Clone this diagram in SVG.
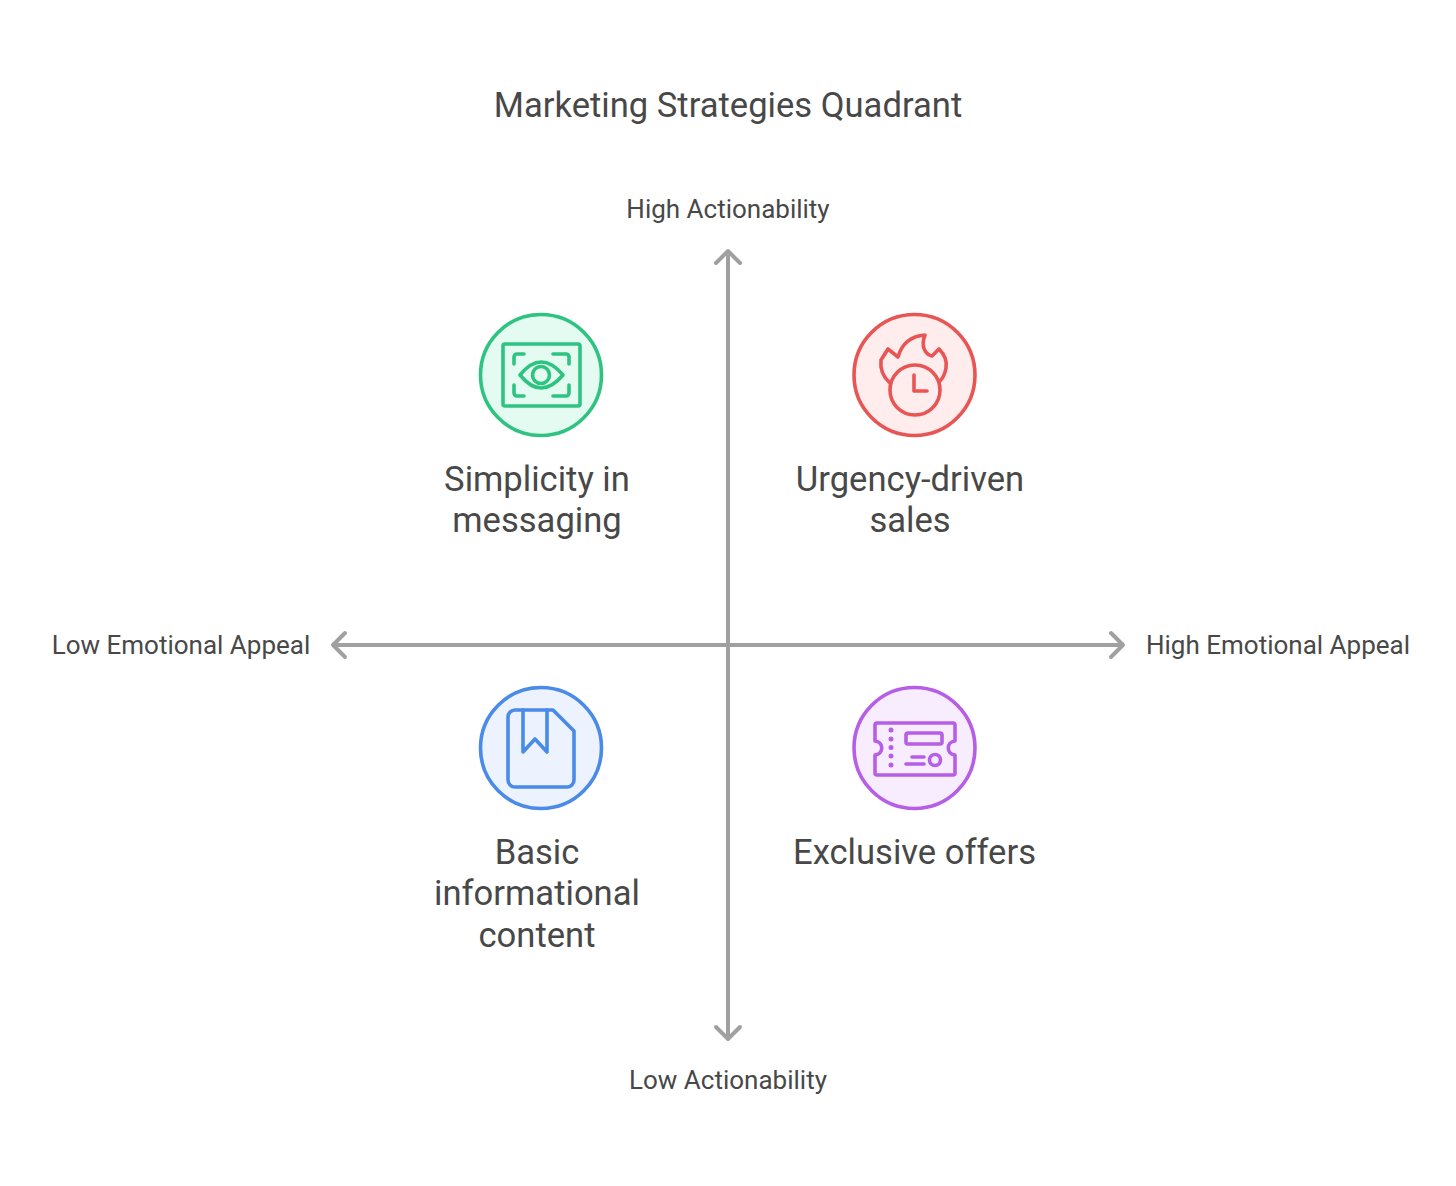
<svg xmlns="http://www.w3.org/2000/svg" width="1456" height="1186" viewBox="0 0 1456 1186">
<defs>
<marker id="arrow" markerUnits="userSpaceOnUse" markerWidth="30" markerHeight="30" refX="22" refY="15" orient="auto-start-reverse" viewBox="0 0 30 30"><path d="M10 3 L22 15 L10 27" fill="none" stroke="#a0a0a0" stroke-width="4" stroke-linecap="round" stroke-linejoin="round"/></marker>
</defs>
<style>
text{font-family:Roboto,"Liberation Sans",sans-serif;fill:#484848;text-anchor:middle}
.t{font-size:34.6px}
.a{font-size:26px}
.n{font-size:34.6px}
.ic{fill:none;stroke-width:3.6;stroke-linecap:round;stroke-linejoin:round}
.c{stroke-width:3.6}
</style>
<rect width="1456" height="1186" fill="#fff"/>
<text class="t" x="728" y="116.500">Marketing Strategies Quadrant</text>
<g id="connectors" fill="none" stroke="#a0a0a0" stroke-width="4">
<line x1="728" y1="1039" x2="728" y2="251" marker-start="url(#arrow)" marker-end="url(#arrow)"/>
<line x1="333" y1="645" x2="1123" y2="645" marker-start="url(#arrow)" marker-end="url(#arrow)"/>
</g>
<g id="axis-labels">
<text class="a" x="728" y="217.500">High Actionability</text>
<text class="a" x="728" y="1089">Low Actionability</text>
<text class="a" x="181" y="653.500">Low Emotional Appeal</text>
<text class="a" x="1278" y="653.500">High Emotional Appeal</text>
</g>
<g id="node-simplicity">
<circle class="c" cx="541" cy="375" r="60.500" fill="#e3fbf0" stroke="#2fc381"/>
<g class="ic" stroke="#2fc381">
<rect x="503" y="344" width="77" height="62" rx="2"/>
<path d="M514 364v-7a3 3 0 0 1 3-3h7M553 354h13a3 3 0 0 1 3 3v7M514 385v8a3 3 0 0 0 3 3h7M553 396h13a3 3 0 0 0 3-3v-8"/>
<path d="M520 375q21-26 43 0q-22 26-43 0z"/>
<circle cx="541" cy="375" r="8.500"/>
</g>
<text class="n" x="537" y="490.500">Simplicity in</text>
<text class="n" x="537" y="531.500">messaging</text>
</g>
<g id="node-urgency">
<circle class="c" cx="914.500" cy="375" r="60.500" fill="#ffecec" stroke="#e85555"/>
<g class="ic" stroke="#e85555">
<path d="M890 383C883 377 880 369 881 360L888 349L898 357C902 343 912 336 925 335C921 345 924 354 932 356L939 349C945 355 947 362 946 368C945 374 943 378 940 381"/>
<circle cx="915" cy="390" r="25"/>
<path d="M914 375v16h13"/>
</g>
<text class="n" x="910" y="490.500">Urgency-driven</text>
<text class="n" x="910" y="531.500">sales</text>
</g>
<g id="node-basic">
<circle class="c" cx="541" cy="748" r="60.500" fill="#ecf3fe" stroke="#4a8ae8"/>
<g class="ic" stroke="#4a8ae8">
<path d="M515 710h38l21 21v49a7 7 0 0 1-7 7h-52a7 7 0 0 1-7-7v-63a7 7 0 0 1 7-7z"/>
<path d="M523 710v42l12-13 12 13v-42"/>
</g>
<text class="n" x="537" y="863.500">Basic</text>
<text class="n" x="537" y="905">informational</text>
<text class="n" x="537" y="946.500">content</text>
</g>
<g id="node-exclusive">
<circle class="c" cx="914.500" cy="748" r="60.500" fill="#f8edfe" stroke="#b65ee6"/>
<g class="ic" stroke="#b65ee6">
<path d="M877 723h76a2 2 0 0 1 2 2v16c-9 1-9 13 0 14v18a2 2 0 0 1-2 2h-76a2 2 0 0 1-2-2v-18c9-1 9-13 0-14v-16a2 2 0 0 1 2-2z"/>
<rect x="906" y="733" width="36" height="11" rx="2"/>
<path d="M912 757h12M906 764h18"/>
<circle cx="935" cy="760" r="5.500"/>
</g>
<g fill="#b65ee6"><circle cx="891" cy="730" r="2.500"/><circle cx="891" cy="739" r="2.500"/><circle cx="891" cy="747.500" r="2.500"/><circle cx="891" cy="756" r="2.500"/><circle cx="891" cy="765" r="2.500"/></g>
<text class="n" x="914.500" y="863.500">Exclusive offers</text>
</g>
</svg>
